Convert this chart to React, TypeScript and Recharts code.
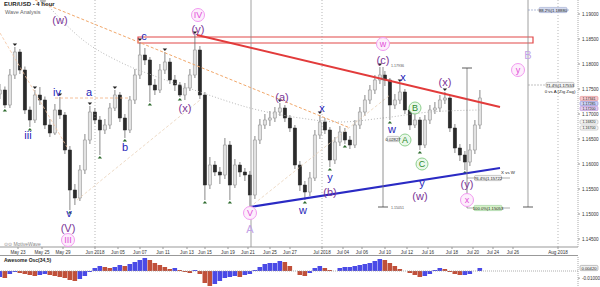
import React from 'react';
import { ComposedChart, BarChart, Bar, Line, XAxis, YAxis, ReferenceLine, ReferenceDot, ReferenceArea, Cell } from 'recharts';

// ---------- DATA ----------
const firstOpen = 1.174;
const closes = [1.1748,1.1718,1.1778,1.1824,1.1788,1.1708,1.1688,1.1738,1.1728,1.1678,
1.1662,1.1708,1.1698,1.1628,1.1548,1.1532,1.1588,1.1648,1.1704,1.1688,
1.1668,1.1678,1.1712,1.1738,1.1692,1.1668,1.1728,1.1778,1.1818,1.1808,
1.1758,1.1748,1.1788,1.1804,1.1768,1.1758,1.1738,1.1752,1.1778,1.1828,
1.1738,1.1558,1.1598,1.1584,1.1578,1.1638,1.1558,1.1598,1.1584,1.1578,
1.1538,1.1648,1.1678,1.1688,1.1692,1.1704,1.1712,1.1692,1.1672,1.1598,
1.1558,1.1544,1.1572,1.1658,1.1684,1.1668,1.1608,1.1644,1.1664,1.1648,
1.1638,1.1678,1.1704,1.1728,1.1748,1.1768,1.1778,1.1768,1.1718,1.1728,
1.1744,1.1708,1.1678,1.1688,1.1638,1.1688,1.1708,1.1712,1.1728,1.1732,
1.1672,1.1632,1.1618,1.1604,1.1628,1.1678,1.1732];
const highs = [1.1760,1.1755,1.1790,1.1834,1.1830,1.1795,1.1715,1.1748,1.1754,1.1735,
1.1690,1.1720,1.1734,1.1704,1.1636,1.1560,1.1598,1.1660,1.1716,1.1712,
1.1696,1.1690,1.1722,1.1748,1.1744,1.1700,1.1736,1.1790,1.1844,1.1832,
1.1814,1.1770,1.1800,1.1824,1.1812,1.1778,1.1764,1.1762,1.1790,1.1858,
1.1836,1.1744,1.1614,1.1606,1.1594,1.1652,1.1646,1.1610,1.1604,1.1592,
1.1586,1.1656,1.1690,1.1700,1.1706,1.1714,1.1722,1.1718,1.1698,1.1678,
1.1606,1.1566,1.1584,1.1668,1.1698,1.1692,1.1674,1.1654,1.1676,1.1672,
1.1656,1.1688,1.1714,1.1738,1.1758,1.1778,1.1794,1.1786,1.1772,1.1740,
1.1762,1.1750,1.1714,1.1700,1.1694,1.1698,1.1718,1.1724,1.1738,1.1744,
1.1738,1.1680,1.1640,1.1626,1.1640,1.1688,1.1748];
const lows = [1.1730,1.1712,1.1712,1.1770,1.1780,1.1700,1.1674,1.1682,1.1718,1.1670,
1.1654,1.1658,1.1690,1.1620,1.1508,1.1518,1.1526,1.1580,1.1640,1.1680,
1.1618,1.1660,1.1670,1.1706,1.1684,1.1652,1.1662,1.1720,1.1770,1.1798,
1.1724,1.1738,1.1742,1.1780,1.1760,1.1746,1.1734,1.1728,1.1746,1.1772,
1.1730,1.1528,1.1550,1.1576,1.1560,1.1570,1.1528,1.1552,1.1574,1.1566,
1.1514,1.1530,1.1640,1.1670,1.1676,1.1684,1.1696,1.1684,1.1664,1.1590,
1.1546,1.1528,1.1536,1.1566,1.1650,1.1660,1.1594,1.1600,1.1636,1.1640,
1.1630,1.1632,1.1670,1.1696,1.1720,1.1740,1.1760,1.1756,1.1688,1.1710,
1.1720,1.1700,1.1668,1.1672,1.1628,1.1632,1.1680,1.1700,1.1704,1.1720,
1.1664,1.1622,1.1606,1.1588,1.1596,1.1620,1.1670];
const aoValues = [-0.0084,-0.0098,-0.0042,-0.0014,-0.0028,-0.0042,-0.0056,-0.0070,-0.0056,-0.0042,
-0.0056,-0.0070,-0.0084,-0.0098,-0.0126,-0.0140,-0.0112,-0.0070,-0.0014,0.0042,
0.0070,0.0056,0.0042,0.0056,0.0084,0.0070,0.0098,0.0126,0.0154,0.0182,
0.0154,0.0112,0.0084,0.0056,0.0028,0.0042,0.0014,-0.0014,-0.0028,0.0014,
-0.0042,-0.0168,-0.0210,-0.0182,-0.0140,-0.0098,-0.0084,-0.0070,-0.0084,-0.0056,
-0.0042,0.0014,0.0056,0.0098,0.0112,0.0112,0.0140,0.0126,0.0070,0.0000,
-0.0056,-0.0070,-0.0028,0.0042,0.0070,0.0042,0.0014,0.0000,0.0042,0.0056,
0.0056,0.0070,0.0084,0.0098,0.0112,0.0140,0.0168,0.0154,0.0112,0.0070,
0.0028,0.0000,-0.0028,-0.0056,-0.0084,-0.0070,-0.0042,0.0014,0.0042,0.0028,
-0.0014,-0.0042,-0.0056,-0.0056,-0.0042,0.0000,0.0042];
const pivotHighIdx = [3, 7, 12, 18, 23, 28, 33, 39, 56, 64, 76, 80, 89];
const pivotLowIdx = [1, 6, 14, 20, 25, 30, 36, 41, 46, 50, 61, 66, 69, 78, 84, 93];

const dateTickPos = [3.6, 8.4, 12.6, 19, 23.6, 28, 32.6, 37.4, 41, 45.6, 49.6, 54, 58, 64.4, 68.6, 72.4, 77, 81.4, 85.6, 90.4, 94.6, 98.6, 102.6, 111.6];
const dateTickLabels = ['May 23','May 25','May 29','Jun 2018','Jun 05','Jun 07','Jun 11','Jun 13','Jun 15','Jun 19','Jun 21','Jun 25','Jun 27','Jul 2018','Jul 04','Jul 06','Jul 10','Jul 12','Jul 16','Jul 18','Jul 20','Jul 24','Jul 26','Aug 2018'];
const monthStarts = [19, 64.4, 111.6];
const priceTicks = [1.145, 1.15, 1.155, 1.16, 1.165, 1.17, 1.175, 1.18, 1.185, 1.19];
const aoTicks = [-0.01];

const maIdx = [8.6, 16.6, 24, 32, 40, 50, 60, 68, 76.6, 86, 96];
const maVal = [1.1928, 1.1848, 1.1804, 1.1772, 1.1744, 1.1712, 1.1692, 1.1684, 1.1692, 1.1704, 1.1708];

// wave labels: [text, index, price, kind]
const waveLabels: [string, number, number, string][] = [
  ['(w)', 12, 1.1888, 'purple'], ['(y)', 39.6, 1.1870, 'purple'], ['(x)', 37, 1.1712, 'purple'],
  ['(a)', 56.4, 1.1734, 'purple'], ['(b)', 66, 1.1544, 'purple'], ['(c)', 76.6, 1.1808, 'purple'],
  ['(w)', 84, 1.1536, 'purple'], ['(x)', 89, 1.1764, 'purple'], ['(y)', 93.4, 1.1560, 'purple'],
  ['(V)', 13.6, 1.1472, 'purple'],
  ['iii', 5.6, 1.1658, 'blue'], ['iv', 11.4, 1.1744, 'blue'], ['a', 17.8, 1.1744, 'blue'],
  ['b', 25, 1.1634, 'blue'], ['v', 13.8, 1.1502, 'blue'], ['c', 28.8, 1.1856, 'blue'],
  ['x', 64.4, 1.1712, 'blue'], ['y', 66, 1.1574, 'blue'], ['w', 60.6, 1.1508, 'blue'],
  ['w', 78.4, 1.1670, 'blue'], ['x', 80.6, 1.1774, 'blue'], ['y', 84.4, 1.1562, 'blue'],
  ['IV', 39.6, 1.1898, 'pink'], ['w', 76.6, 1.1840, 'pink'], ['x', 93.4, 1.1528, 'pink'],
  ['V', 50, 1.1502, 'pink'], ['III', 13.6, 1.1448, 'pink'], ['y', 103.6, 1.1788, 'pink'],
  ['A', 50, 1.1470, 'lilac'], ['B', 105.6, 1.1818, 'lilac'],
  ['A', 81, 1.1648, 'green'], ['B', 83, 1.1712, 'green'], ['C', 84.4, 1.1600, 'green'],
];

// ---------- STYLES ----------
const FONT = '"Liberation Sans", Arial, sans-serif';
const labelStyles: Record<string, any> = {
  purple: { color: '#7b3597', size: 11 },
  blue: { color: '#2424b8', size: 11 },
  pink: { color: '#e24fd8', size: 9, circle: true, r: 6.5, cFill: '#fdeefc', cStroke: '#f29af0' },
  lilac: { color: '#c3a2e6', size: 11 },
  green: { color: '#2d8a2d', size: 9, circle: true, r: 6, cFill: '#eaf8ea', cStroke: '#8fd08f' },
};

const X_MAX = 115.6;
const Y_MIN = 1.1434;
const Y_MAX = 1.1928;

const rows = closes.map((c, i) => ({
  i,
  open: i === 0 ? firstOpen : closes[i - 1],
  high: highs[i],
  low: lows[i],
  close: c,
  ao: aoValues[i],
  ph: pivotHighIdx.includes(i),
  pl: pivotLowIdx.includes(i),
}));
const maRows = maIdx.map((x, k) => ({ i: x, ma: maVal[k] }));

const Candle = (props: any) => {
  const { x, y, width, height, index } = props;
  const d = props.payload && props.payload.high !== undefined ? props.payload : rows[index];
  if (!d) return null;
  const top = Math.min(y, y + height);
  const h = Math.abs(height);
  const range = d.high - d.low || 1e-9;
  const py = (v: number) => top + ((d.high - v) / range) * h;
  const cx = x + width / 2;
  const up = d.close >= d.open;
  const bt = py(Math.max(d.open, d.close));
  const bb = py(Math.min(d.open, d.close));
  return (
    <g>
      <line x1={cx} x2={cx} y1={top} y2={top + h} stroke="#6a6a6a" strokeWidth={0.8} />
      <rect x={cx - 1.7} y={bt} width={3.4} height={Math.max(0.8, bb - bt)}
        fill={up ? '#e2e2e2' : '#2a2a2a'} stroke={up ? '#8a8a8a' : '#2a2a2a'} strokeWidth={0.5} />
      {d.ph && <path d={`M${cx - 2.2},${top - 3.5} L${cx + 2.2},${top - 3.5} L${cx},${top - 1} Z`} fill="#222" />}
      {d.pl && <path d={`M${cx - 2.2},${top + h + 3.5} L${cx + 2.2},${top + h + 3.5} L${cx},${top + h + 1} Z`} fill="#2e6b2e" />}
    </g>
  );
};

const waveShape = (text: string, kind: string) => (p: any) => {
  const st = labelStyles[kind];
  const { cx, cy } = p;
  return (
    <g>
      {st.circle && <circle cx={cx} cy={cy} r={st.r} fill={st.cFill} stroke={st.cStroke} strokeWidth={1} />}
      <text x={cx} y={cy} textAnchor="middle" dominantBaseline="central" fontSize={st.size}
        fill={st.color} fontFamily={FONT}>{text}</text>
    </g>
  );
};

const boxShape = (text: string, w: number, fill: string, stroke: string, dx = 0, hgt = 5.2) => (p: any) => {
  const { cx, cy } = p;
  const left = cx - w / 2 + dx;
  return (
    <g>
      <rect x={left} y={cy - hgt / 2} width={w} height={hgt} rx={1.2} fill={fill} stroke={stroke} strokeWidth={0.5} />
      <text x={left + w / 2} y={cy + 0.2} textAnchor="middle" dominantBaseline="central" fontSize={hgt < 5 ? 3.6 : 4.2}
        fill="#222" fontFamily={FONT}>{text}</text>
    </g>
  );
};

const textShape = (text: string, size = 4.5, color = '#222', anchor = 'middle') => (p: any) => (
  <text x={p.cx} y={p.cy} textAnchor={anchor as any} dominantBaseline="central" fontSize={size}
    fill={color} fontFamily={FONT}>{text}</text>
);

type Seg = [number, number, number, number, string, number, string?];
const segments: Seg[] = [
  [7, 1.1928, 70, 1.1672, '#f1a76a', 1, '3 2'],
  [0, 1.1862, 13.4, 1.1634, '#f4c3a0', 0.8, '3 2'],
  [11, 1.1732, 26, 1.1732, '#f1b080', 0.8, '3 2'],
  [15.4, 1.1528, 40, 1.1728, '#e8d0b8', 0.8, '3 2'],
  [50, 1.1514, 78, 1.1738, '#e8d0b8', 0.8, '3 2'],
  [39.4, 1.1858, 100, 1.1714, '#e23b3b', 2],
  [50, 1.1514, 100, 1.1592, '#2a2ac4', 2],
  [76.6, 1.1794, 76.6, 1.1514, '#777', 0.8],
  [75.6, 1.1514, 77.6, 1.1514, '#333', 0.8],
  [93.4, 1.1792, 93.4, 1.1512, '#777', 0.8],
  [92.4, 1.1792, 94.4, 1.1792, '#333', 0.8],
  [105.6, 1.1928, 105.6, 1.1514, '#888', 0.8],
  [104.6, 1.1514, 106.6, 1.1514, '#333', 0.8],
  [93.4, 1.1572, 102, 1.1572, '#777', 0.6],
  [93.4, 1.1512, 102, 1.1512, '#777', 0.6],
  [105.6, 1.1908, 114, 1.1908, '#8090c0', 0.6, '2 1'],
  [105.6, 1.1758, 114, 1.1758, '#999', 0.6, '2 1'],
];

const fmtDate = (v: number) => {
  const k = dateTickPos.indexOf(v);
  return k >= 0 ? dateTickLabels[k] : '';
};

export default function App() {
  const lastAo = aoValues[aoValues.length - 1];
  return (
    <div style={{ position: 'absolute', left: 0, top: 0, width: 600, height: 287, background: '#fff', overflow: 'hidden', fontFamily: FONT }}>
      <ComposedChart width={600} height={256} data={rows} margin={{ top: 0, right: 0, bottom: 0, left: 0 }}>
        <XAxis dataKey="i" type="number" domain={[0, X_MAX]} ticks={dateTickPos} tickFormatter={fmtDate}
          allowDataOverflow height={9} interval={0} tick={{ fontSize: 4.6, fill: '#333', fontFamily: FONT }}
          tickSize={2} axisLine={{ stroke: '#999' }} tickLine={{ stroke: '#999' }} />
        <YAxis orientation="right" type="number" domain={[Y_MIN, Y_MAX]} ticks={priceTicks} allowDataOverflow
          width={22} tickFormatter={(v: number) => v.toFixed(5)} tick={{ fontSize: 4.6, fill: '#333', fontFamily: FONT }}
          tickSize={2} axisLine={{ stroke: '#aaa', strokeDasharray: '1 1' }} tickLine={{ stroke: '#999' }} />
        {monthStarts.map((m) => (
          <ReferenceLine key={'m' + m} x={m} stroke="#9a9a9a" strokeDasharray="1 2" strokeWidth={0.7} />
        ))}
        <ReferenceLine x={50.2} stroke="#8a8a8a" strokeWidth={0.8} />
        <ReferenceArea x1={27.6} x2={106.6} y1={1.1842} y2={1.1854} fill="#ffffff" fillOpacity={0} stroke="#e24848" strokeWidth={1.2} />
        <Line data={maRows} dataKey="ma" type="monotone" stroke="#b8b8b8" strokeDasharray="1 2" strokeWidth={1} dot={false} isAnimationActive={false} />
        {segments.map((s, k) => (
          <ReferenceLine key={'s' + k} segment={[{ x: s[0], y: s[1] }, { x: s[2], y: s[3] }]}
            stroke={s[4]} strokeWidth={s[5]} strokeDasharray={s[6]} />
        ))}
        <Bar dataKey={(d: any) => [d.low, d.high]} shape={Candle} barSize={3} isAnimationActive={false} />
        {waveLabels.map((w, k) => (
          <ReferenceDot key={'w' + k} x={w[1]} y={w[2]} r={0} shape={waveShape(w[0], w[3])} />
        ))}
        <ReferenceDot x={110.6} y={1.1908} r={0} shape={boxShape('88.2%|1.18880', 28, '#d4dbef', '#8a97c6')} />
        <ReferenceDot x={112} y={1.1758} r={0} shape={boxShape('71.4%|1.17553', 28, '#f2f2f2', '#999')} />
        <ReferenceDot x={112} y={1.1746} r={0} shape={textShape('0 vs A (Zig Zag)', 4.4)} />
        <ReferenceDot x={97.6} y={1.1572} r={0} shape={boxShape('76.4%|1.15722', 27, '#f2f2f2', '#999')} />
        <ReferenceDot x={97.6} y={1.1512} r={0} shape={boxShape('100.0%|1.15053', 28, '#d6f2c8', '#86c486')} />
        <ReferenceDot x={101.6} y={1.1584} r={0} shape={textShape('X vs W', 4.4)} />
        <ReferenceDot x={78.2} y={1.1796} r={0} shape={textShape('1.17936', 3.6, '#555', 'start')} />
        <ReferenceDot x={78.6} y={1.1650} r={0} shape={boxShape('0.02827', 12, '#f6f6f6', '#999')} />
        <ReferenceDot x={78.2} y={1.1512} r={0} shape={textShape('1.15051', 3.6, '#555', 'start')} />
        <ReferenceDot x={X_MAX} y={1.1731} r={0} shape={boxShape('1.17341', 18, '#f7c9cf', '#d77', 11, 4.2)} />
        <ReferenceDot x={X_MAX} y={1.1721} r={0} shape={boxShape('1.17285', 18, '#cdd3f6', '#77c', 11, 4.2)} />
        <ReferenceDot x={X_MAX} y={1.1711} r={0} shape={boxShape('1.17200', 18, '#e2cdf0', '#a7c', 11, 4.2)} />
        <ReferenceDot x={X_MAX} y={1.1684} r={0} shape={boxShape('1.16820', 18, '#f4f4f4', '#aaa', 11, 4.2)} />
        <ReferenceDot x={X_MAX} y={1.1672} r={0} shape={boxShape('1.16700', 18, '#f4f4f4', '#aaa', 11, 4.2)} />
      </ComposedChart>
      <div style={{ position: 'absolute', left: 0, top: 255, width: 578, borderTop: '1px solid #999' }} />
      <BarChart width={600} height={31} data={rows} margin={{ top: 1, right: 0, bottom: 0, left: 0 }} barCategoryGap={0}>
        <XAxis dataKey="i" type="number" domain={[0, X_MAX]} hide allowDataOverflow />
        <YAxis orientation="right" type="number" domain={[-0.0224, 0.0196]} ticks={aoTicks} allowDataOverflow width={22}
          tickFormatter={(v: number) => v.toFixed(5)} tick={{ fontSize: 4.6, fill: '#333', fontFamily: FONT }}
          tickSize={2} axisLine={{ stroke: '#aaa', strokeDasharray: '1 1' }} tickLine={{ stroke: '#999' }} />
        <ReferenceLine y={0} stroke="#999" strokeDasharray="1 1" strokeWidth={0.8} />
        <Bar dataKey="ao" barSize={4.6} isAnimationActive={false}>
          {rows.map((r, k) => (
            <Cell key={k} fill={k > 0 && r.ao < aoValues[k - 1] ? '#c0503a' : '#4a4ae6'} />
          ))}
        </Bar>
        <ReferenceDot x={X_MAX} y={lastAo} r={0} shape={boxShape(lastAo.toFixed(5), 18, '#f0f0f0', '#888', 11)} />
      </BarChart>
      <div style={{ position: 'absolute', left: 4, top: 1, fontSize: 6, color: '#222', fontWeight: 'bold', lineHeight: '7px' }}>EUR/USD - 4 hour</div>
      <div style={{ position: 'absolute', left: 5, top: 9, fontSize: 5.5, color: '#666', lineHeight: '7px' }}>Wave Analysis</div>
      <div style={{ position: 'absolute', left: 4, top: 241, fontSize: 5, color: '#888', lineHeight: '6px' }}>⊙⊙ MotiveWave</div>
      <div style={{ position: 'absolute', left: 4, top: 257, fontSize: 5, color: '#222', fontWeight: 'bold', lineHeight: '6px' }}>Awesome Osc(34,5)</div>
    </div>
  );
}
